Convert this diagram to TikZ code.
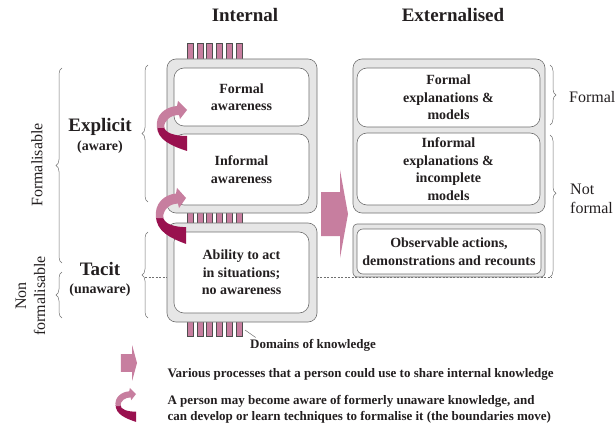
\documentclass[tikz,border=0pt]{standalone}
\usepackage{fontspec}
\setmainfont{Liberation Serif}
\usepackage{xcolor}
\definecolor{pinkcolor}{HTML}{C77E9F}
\definecolor{darkpink}{HTML}{99114F}
\definecolor{framecolor}{HTML}{E6E6E6}
\definecolor{linecolor}{HTML}{707070}
\definecolor{inkcolor}{HTML}{231F20}
\usepackage{tikz}
\usetikzlibrary{decorations.pathreplacing}

\begin{document}
\begin{tikzpicture}[
  x=1pt, y=-1pt,
  inkcolor,
  outer/.style={draw=linecolor, fill=framecolor, line width=0.6pt, rounded corners=9pt},
  inner/.style={draw=linecolor, fill=white, line width=0.6pt, rounded corners=10pt,
    align=center, inner sep=0pt, font=\fontsize{14}{17.5}\selectfont\bfseries},
  title/.style={font=\fontsize{19}{22}\selectfont\bfseries},
  sidetext/.style={align=center, font=\fontsize{16}{19}\selectfont},
  legtext/.style={anchor=west, align=left, font=\fontsize{13}{16}\selectfont\bfseries},
  bracestyle/.style={draw=linecolor, line width=0.5pt, decorate, decoration={brace, amplitude=6pt}},
  stripe/.style={draw=linecolor!70!black, fill=pinkcolor, line width=0.4pt},
  liftarrow/.pic={
    \fill[darkpink] (-30,16) .. controls (-30,30) and (-15,36) .. (0,41)
      -- (0,26) .. controls (-12,26) and (-23,23) .. (-23,16) -- cycle;
    \fill[pinkcolor] (-30,18) .. controls (-32,5) and (-22,-3) .. (-10,-4)
      -- (-9,-9) -- (0,0) -- (-7,9) -- (-8,5)
      .. controls (-16,5) and (-23,10) .. (-23,18) -- cycle;
  },
  sharearrow/.pic={
    \fill[pinkcolor] (-27,-22) -- (-8,-22) -- (-8,-44) -- (0,0) -- (-8,44)
      -- (-8,22) -- (-27,22) -- cycle;
  },
]
  \useasboundingbox (0,0) rectangle (616,425);

  % titles
  \node[title] (inttitle) at (245,15) {Internal};
  \node[title] (exttitle) at (453,15) {Externalised};

  % stripes and boundary
  \foreach \i in {0,...,5}
    \draw[stripe] (187+\i*9.8,43) rectangle ++(6,293);
  \draw[linecolor, line width=0.5pt, dash pattern=on 2pt off 1.5pt] (145,277.5) -- (552,277.5);

  % internal
  \draw[outer] (167,59) rectangle (317,213);
  \draw[outer] (167,223) rectangle (317,322);
  \node[inner, minimum width=135pt, minimum height=58pt] (formalaw) at (241.5,97) {Formal\\awareness};
  \node[inner, minimum width=135pt, minimum height=71pt] (informalaw) at (241.5,169.5) {Informal\\awareness};
  \node[inner, minimum width=135pt, minimum height=81pt] (ability) at (241.5,272.5) {Ability to act\\in situations;\\no awareness};

  % externalised
  \draw[outer] (353,59) rectangle (545,213);
  \draw[outer, rounded corners=4pt] (353,224) rectangle (545,277);
  \node[inner, minimum width=183pt, minimum height=59pt] (formalex) at (448.5,97.5) {Formal\\explanations \&\\models};
  \node[inner, minimum width=183pt, minimum height=72pt] (informalex) at (448.5,169) {Informal\\explanations \&\\incomplete\\models};
  \node[inner, rounded corners=6pt, minimum width=184pt, minimum height=45pt] (observe) at (449,251.5) {Observable actions,\\demonstrations and recounts};

  % arrows
  \pic at (348,214) {sharearrow};
  \pic at (187,110) {liftarrow};
  \pic[yscale=1.12] at (186,198) {liftarrow};

  % braces
  \draw[bracestyle] (148,202) -- (148,65);
  \draw[bracestyle] (148,318) -- (148,232);
  \draw[bracestyle] (62,263) -- (62,68);
  \draw[bracestyle] (62,318) -- (62,272);
  \draw[bracestyle] (550,65) -- (550,125);
  \draw[bracestyle, decoration={aspect=0.41}] (550,135) -- (550,277);

  \node[font=\fontsize{19}{22}\selectfont\bfseries] (explicit) at (100,127) {Explicit};
  \node[font=\fontsize{14}{17}\selectfont\bfseries] (aware) at (100,147) {(aware)};
  \node[font=\fontsize{19}{22}\selectfont\bfseries] (tacit) at (100,269) {Tacit};
  \node[font=\fontsize{14}{17}\selectfont\bfseries] (unaware) at (100,290) {(unaware)};
  \node[sidetext, rotate=90] (formalisable) at (37,165) {Formalisable};
  \node[sidetext, rotate=90] (nonformal) at (30.5,296) {Non\\formalisable};
  \node[sidetext, anchor=west, inner sep=0pt] (formal) at (569,97) {Formal};
  \node[sidetext, anchor=west, align=left, inner sep=0pt] (notformal) at (570,199) {Not\\formal};

  % domains label
  \coordinate (domtick) at (245,330);
  \node[font=\fontsize{13}{15}\selectfont\bfseries] (domains) at (313,345) {Domains of knowledge};
  \draw[linecolor, line width=0.5pt] (domtick) -- ([xshift=9pt,yshift=-2pt]domains.north west);

  % legend
  \pic[xscale=0.6, yscale=0.4] at (137,363) {sharearrow};
  \pic[scale=0.68] at (136,394) {liftarrow};
  \node[legtext] (legshare) at (164,374) {Various processes that a person could use to share internal knowledge};
  \node[legtext] (legturn) at (164,409) {A person may become aware of formerly unaware knowledge, and\\can develop or learn techniques to formalise it (the boundaries move)};
\end{tikzpicture}
\end{document}
